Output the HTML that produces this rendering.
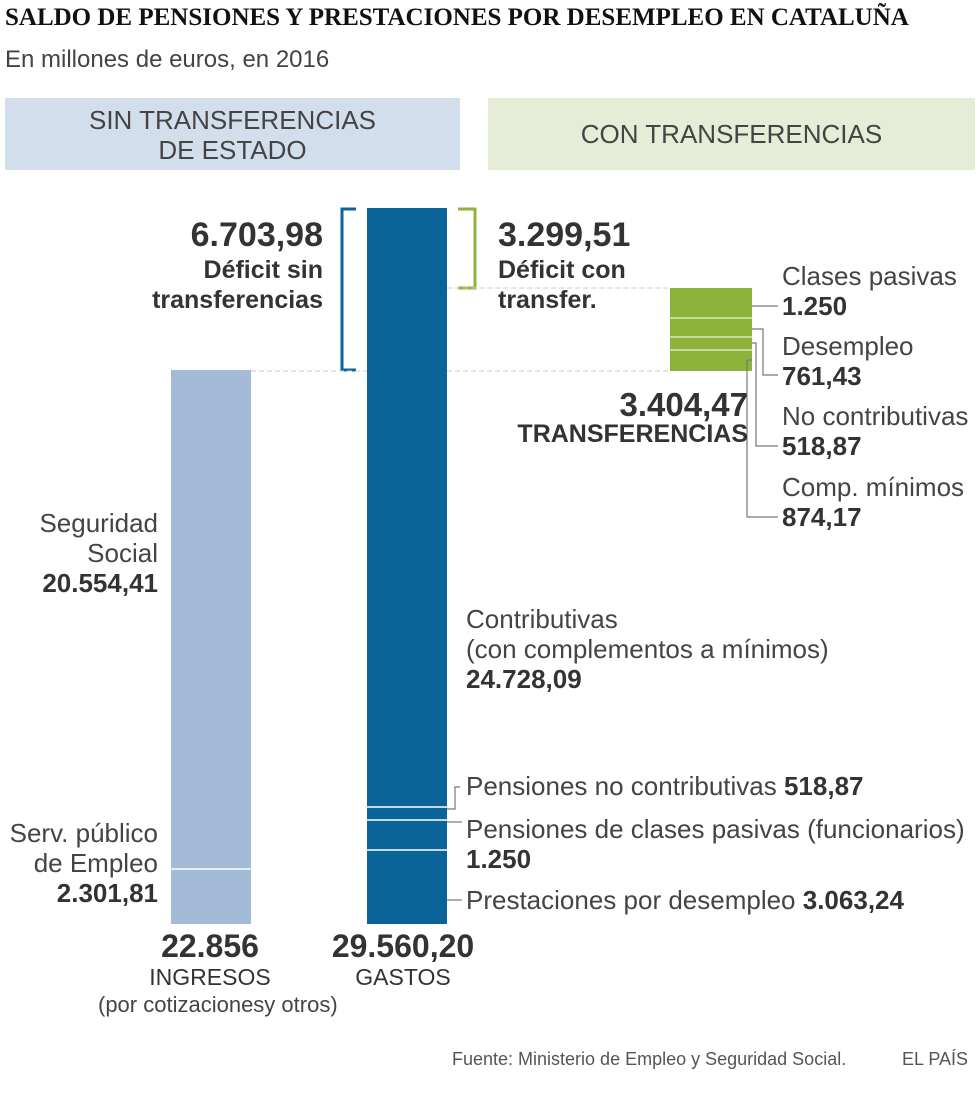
<!DOCTYPE html>
<html><head><meta charset="utf-8"><style>
body{margin:0;background:#fff;width:980px;height:1113px;position:relative;overflow:hidden;font-family:"Liberation Sans",sans-serif;color:#333}
.a{position:absolute;white-space:nowrap}
.l{font-size:26px;color:#444;line-height:30px}
.b{font-weight:bold;color:#333}
</style></head><body>
<div class="a b" style="left:5px;top:4px;font-family:'Liberation Serif',serif;font-size:25px;color:#111">SALDO DE PENSIONES Y PRESTACIONES POR DESEMPLEO EN CATALUÑA</div>
<div class="a l" style="left:5px;top:45px;font-size:24px">En millones de euros, en 2016</div>
<div class="a" style="left:5px;top:98px;width:455px;height:72px;background:#d3deec;text-align:center;font-size:26px;line-height:30px;color:#444;padding-top:7px;box-sizing:border-box">SIN TRANSFERENCIAS<br>DE ESTADO</div>
<div class="a" style="left:488px;top:98px;width:487px;height:72px;background:#e6edd6;text-align:center;font-size:26px;line-height:72px;color:#444">CON TRANSFERENCIAS</div>

<svg class="a" style="left:0;top:0" width="980" height="1113">
<rect x="171" y="370" width="80" height="554" fill="#a3bbd7"/>
<line x1="171" y1="869" x2="251" y2="869" stroke="#fff" stroke-width="1.5"/>
<rect x="367" y="208" width="80" height="716" fill="#0a6399"/>
<g stroke="#fff" stroke-width="1.5"><line x1="367" y1="807" x2="447" y2="807"/><line x1="367" y1="820" x2="447" y2="820"/><line x1="367" y1="850" x2="447" y2="850"/></g>
<path d="M356 209H342V370H356" fill="none" stroke="#0a6399" stroke-width="3"/>
<path d="M458 209H475V288H458" fill="none" stroke="#8db33a" stroke-width="3"/>
<g stroke="#ccc" stroke-dasharray="5,3"><line x1="447" y1="288" x2="670" y2="288"/><line x1="251" y1="371" x2="367" y2="371"/><line x1="447" y1="371" x2="670" y2="371"/></g>
<rect x="670" y="288" width="82" height="83" fill="#8db33a"/>
<g stroke="#d8e6c0" stroke-width="1.5"><line x1="670" y1="318" x2="752" y2="318"/><line x1="670" y1="337" x2="752" y2="337"/><line x1="670" y1="350" x2="752" y2="350"/></g>
<g stroke="#777" fill="none" stroke-width="1.2">
<path d="M752 306H778"/><path d="M752 329H763V375H778"/><path d="M752 343H756V446H778"/><path d="M752 360H747"/><path d="M747 360V517H778"/>
<path d="M460 787H455V809H447"/><path d="M447 822H462"/><path d="M447 900H462"/>
</g>
</svg>

<div class="a b" style="right:657px;top:216px;font-size:34px;text-align:right">6.703,98</div>
<div class="a b" style="right:657px;top:255px;font-size:25px;line-height:30px;text-align:right">Déficit sin<br>transferencias</div>
<div class="a b" style="left:498px;top:216px;font-size:34px">3.299,51</div>
<div class="a b" style="left:498px;top:255px;font-size:25px;line-height:30px">Déficit con<br>transfer.</div>
<div class="a b" style="right:232px;top:386px;font-size:33px;text-align:right">3.404,47</div>
<div class="a" style="right:232px;top:420px;font-size:25px;text-align:right;color:#333;font-weight:bold">TRANSFERENCIAS</div>

<div class="a l" style="left:782px;top:261px">Clases pasivas<br><b class="b">1.250</b></div>
<div class="a l" style="left:782px;top:331px">Desempleo<br><b class="b">761,43</b></div>
<div class="a l" style="left:782px;top:401px">No contributivas<br><b class="b">518,87</b></div>
<div class="a l" style="left:782px;top:472px">Comp. mínimos<br><b class="b">874,17</b></div>

<div class="a l" style="right:822px;top:508px;text-align:right">Seguridad<br>Social<br><b class="b">20.554,41</b></div>
<div class="a l" style="right:822px;top:818px;text-align:right">Serv. público<br>de Empleo<br><b class="b">2.301,81</b></div>

<div class="a l" style="left:466px;top:604px">Contributivas<br>(con complementos a mínimos)<br><b class="b">24.728,09</b></div>
<div class="a l" style="left:466px;top:771px">Pensiones no contributivas <b class="b">518,87</b></div>
<div class="a l" style="left:466px;top:814px">Pensiones de clases pasivas (funcionarios)<br><b class="b">1.250</b></div>
<div class="a l" style="left:466px;top:885px">Prestaciones por desempleo <b class="b">3.063,24</b></div>

<div class="a" style="left:98px;width:224px;top:928px;text-align:center">
<div class="b" style="font-size:32px;line-height:36px">22.856</div>
<div style="font-size:23px;line-height:26px;color:#333">INGRESOS</div>
<div style="font-size:22px;line-height:30px;color:#444">(por cotizacionesy otros)</div></div>
<div class="a" style="left:303px;width:200px;top:928px;text-align:center">
<div class="b" style="font-size:32px;line-height:36px">29.560,20</div>
<div style="font-size:23px;line-height:26px;color:#333">GASTOS</div></div>

<div class="a" style="left:452px;top:1049px;font-size:18px;color:#555">Fuente: Ministerio de Empleo y Seguridad Social.</div>
<div class="a" style="left:902px;top:1049px;font-size:18px;color:#555">EL PAÍS</div>
</body></html>
